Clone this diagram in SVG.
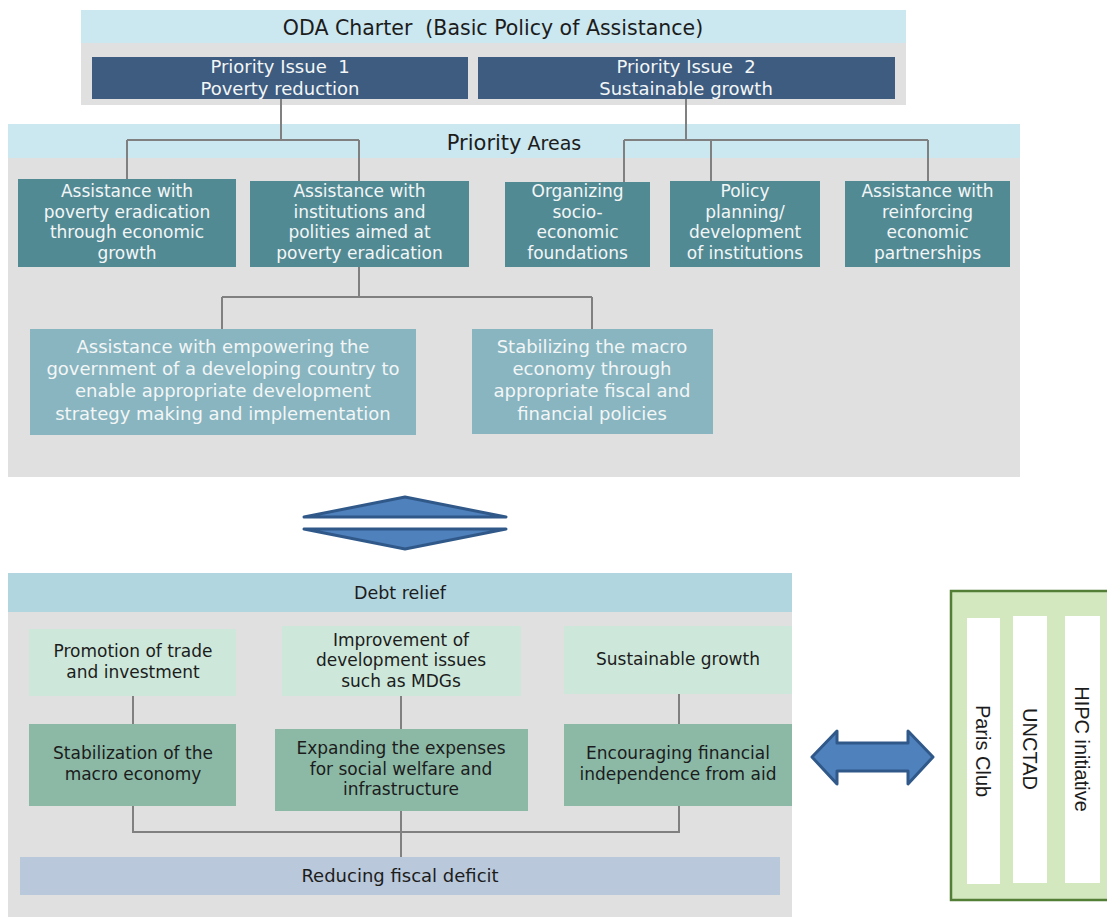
<svg xmlns="http://www.w3.org/2000/svg" width="1107" height="917" viewBox="0 0 1107 917">
  <defs>
    <style>
      .panel { fill: #e0e0e0; }
      .hdr { fill: #cbe7ef; }
      .hdr2 { fill: #b2d6df; }
      .issue { fill: #3d5c80; }
      .area { fill: #528a94; }
      .sub { fill: #88b5bf; }
      .pale { fill: #cde8da; }
      .mid { fill: #8bb9a6; }
      .goal { fill: #b9c8da; }
      .col { fill: #ffffff; }
      .frame { fill: #d3e8bf; stroke: #527e35; stroke-width: 2.5; }
      .t { font-family: "DejaVu Sans", Verdana, sans-serif; text-anchor: middle; }
      .dark { fill: #1c1c1c; }
      .light { fill: #f3f6f7; }
      .vt { font-family: "Liberation Sans", Arial, sans-serif; font-size: 20px; fill: #1c1c1c; text-anchor: middle; }
      .conn { fill: none; stroke: #808080; stroke-width: 2; }
      .bigarrow { fill: #4f81bd; stroke: #30598a; stroke-width: 3; stroke-linejoin: round; }
    </style>
  </defs>

  <!-- ODA Charter panel -->
  <g id="oda-charter">
    <rect class="panel" x="81" y="10" width="825" height="95"/>
    <rect class="hdr" x="81" y="10" width="825" height="33"/>
    <text class="t dark" x="493" y="35" font-size="20.5" xml:space="preserve">ODA Charter  (Basic Policy of Assistance)</text>
  </g>
  <g id="issue-1">
    <rect class="issue" x="92" y="57" width="376" height="42"/>
    <text class="t light" x="280" y="73" font-size="18" xml:space="preserve">Priority Issue  1</text>
    <text class="t light" x="280" y="95" font-size="18">Poverty reduction</text>
  </g>
  <g id="issue-2">
    <rect class="issue" x="478" y="57" width="417" height="42"/>
    <text class="t light" x="686" y="73" font-size="18" xml:space="preserve">Priority Issue  2</text>
    <text class="t light" x="686" y="95" font-size="18">Sustainable growth</text>
  </g>

  <!-- Priority Areas panel -->
  <g id="priority-areas">
    <rect class="panel" x="8" y="124" width="1012" height="353"/>
    <rect class="hdr" x="8" y="124" width="1012" height="34"/>
    <text class="t dark" x="514" y="150"><tspan font-size="21">Priority</tspan><tspan font-size="19"> Areas</tspan></text>
  </g>

  <g id="area-1">
    <rect class="area" x="18" y="179" width="218" height="88"/>
    <text class="t light" font-size="17" x="127" y="197">Assistance with</text>
    <text class="t light" font-size="17" x="127" y="218">poverty eradication</text>
    <text class="t light" font-size="17" x="127" y="238">through economic</text>
    <text class="t light" font-size="17" x="127" y="259">growth</text>
  </g>
  <g id="area-2">
    <rect class="area" x="250" y="181" width="219" height="86"/>
    <text class="t light" font-size="17" x="359.5" y="197">Assistance with</text>
    <text class="t light" font-size="17" x="359.5" y="218">institutions and</text>
    <text class="t light" font-size="17" x="359.5" y="238">polities aimed at</text>
    <text class="t light" font-size="17" x="359.5" y="259">poverty eradication</text>
  </g>
  <g id="area-3">
    <rect class="area" x="505" y="182" width="145" height="85"/>
    <text class="t light" font-size="17" x="577.5" y="197">Organizing</text>
    <text class="t light" font-size="17" x="577.5" y="218">socio-</text>
    <text class="t light" font-size="17" x="577.5" y="238">economic</text>
    <text class="t light" font-size="17" x="577.5" y="259">foundations</text>
  </g>
  <g id="area-4">
    <rect class="area" x="670" y="181" width="150" height="86"/>
    <text class="t light" font-size="17" x="745" y="197">Policy</text>
    <text class="t light" font-size="17" x="745" y="218">planning/</text>
    <text class="t light" font-size="17" x="745" y="238">development</text>
    <text class="t light" font-size="17" x="745" y="259">of institutions</text>
  </g>
  <g id="area-5">
    <rect class="area" x="845" y="181" width="165" height="86"/>
    <text class="t light" font-size="17" x="927.5" y="197">Assistance with</text>
    <text class="t light" font-size="17" x="927.5" y="218">reinforcing</text>
    <text class="t light" font-size="17" x="927.5" y="238">economic</text>
    <text class="t light" font-size="17" x="927.5" y="259">partnerships</text>
  </g>

  <g id="sub-empowering">
    <rect class="sub" x="30" y="329" width="386" height="106"/>
    <text class="t light" font-size="18" x="223" y="353">Assistance with empowering the</text>
    <text class="t light" font-size="18" x="223" y="375">government of a developing country to</text>
    <text class="t light" font-size="18" x="223" y="397">enable appropriate development</text>
    <text class="t light" font-size="18" x="223" y="420">strategy making and implementation</text>
  </g>
  <g id="sub-stabilizing">
    <rect class="sub" x="472" y="329" width="241" height="105"/>
    <text class="t light" font-size="18" x="592" y="353">Stabilizing the macro</text>
    <text class="t light" font-size="18" x="592" y="375">economy through</text>
    <text class="t light" font-size="18" x="592" y="397">appropriate fiscal and</text>
    <text class="t light" font-size="18" x="592" y="420">financial policies</text>
  </g>

  <!-- up/down correspondence chevrons -->
  <g id="updown-arrow">
    <polygon class="bigarrow" points="304,517 405,497 506,517"/>
    <polygon class="bigarrow" points="304,529 506,529 405,549"/>
  </g>

  <!-- Debt relief panel -->
  <g id="debt-relief">
    <rect class="panel" x="8" y="573" width="784" height="344"/>
    <rect class="hdr2" x="8" y="573" width="784" height="39"/>
    <text class="t dark" x="400" y="599" font-size="17.5">Debt relief</text>
  </g>

  <g id="promotion">
    <rect class="pale" x="29" y="629" width="207" height="67"/>
    <text class="t dark" font-size="17" x="133" y="657">Promotion of trade</text>
    <text class="t dark" font-size="17" x="133" y="678">and investment</text>
  </g>
  <g id="improvement">
    <rect class="pale" x="282" y="626" width="239" height="70"/>
    <text class="t dark" font-size="17" x="401" y="646">Improvement of</text>
    <text class="t dark" font-size="17" x="401" y="666">development issues</text>
    <text class="t dark" font-size="17" x="401" y="687">such as MDGs</text>
  </g>
  <g id="sustainable">
    <rect class="pale" x="564" y="626" width="228" height="68"/>
    <text class="t dark" font-size="17" x="678" y="665">Sustainable growth</text>
  </g>

  <g id="stabilization">
    <rect class="mid" x="29" y="724" width="207" height="82"/>
    <text class="t dark" font-size="17" x="133" y="759">Stabilization of the</text>
    <text class="t dark" font-size="17" x="133" y="780">macro economy</text>
  </g>
  <g id="expanding">
    <rect class="mid" x="275" y="729" width="253" height="82"/>
    <text class="t dark" font-size="17" x="401" y="754">Expanding the expenses</text>
    <text class="t dark" font-size="17" x="401" y="775">for social welfare and</text>
    <text class="t dark" font-size="17" x="401" y="795">infrastructure</text>
  </g>
  <g id="encouraging">
    <rect class="mid" x="564" y="724" width="228" height="82"/>
    <text class="t dark" font-size="17" x="678" y="759">Encouraging financial</text>
    <text class="t dark" font-size="17" x="678" y="780">independence from aid</text>
  </g>

  <g id="reducing-deficit">
    <rect class="goal" x="20" y="857" width="760" height="38"/>
    <text class="t dark" font-size="18" x="400" y="882">Reducing fiscal deficit</text>
  </g>

  <!-- two-way arrow to the international frameworks -->
  <g id="leftright-arrow">
    <polygon class="bigarrow" stroke-width="2" points="812,757 837,731 837,743 908,743 908,731 933,757 908,784 908,771 837,771 837,784"/>
  </g>

  <g id="frameworks">
    <rect class="frame" x="951" y="591" width="170" height="309"/>
    <rect class="col" x="967" y="618" width="33" height="266"/>
    <rect class="col" x="1013" y="616" width="34" height="267"/>
    <rect class="col" x="1065" y="616" width="35" height="267"/>
    <text class="vt" transform="translate(976 751) rotate(90)">Paris Club</text>
    <text class="vt" transform="translate(1023 749) rotate(90)">UNCTAD</text>
    <text class="vt" transform="translate(1075 749) rotate(90)">HIPC initiative</text>
  </g>

  <!-- tree connectors -->
  <g id="connectors">
    <path class="conn" d="M281 99 V140 M127 140 H359 M127 140 V179 M359 140 V181"/>
    <path class="conn" d="M686 99 V140 M624 140 H928 M624 140 V182 M711 140 V181 M928 140 V181"/>
    <path class="conn" d="M359 267 V297 M222 297 H592 M222 297 V329 M592 297 V329"/>
    <path class="conn" d="M133 696 V724 M401 696 V729 M679 694 V724"/>
    <path class="conn" d="M133 806 V832 H679 V806 M401 811 V857"/>
  </g>
</svg>
